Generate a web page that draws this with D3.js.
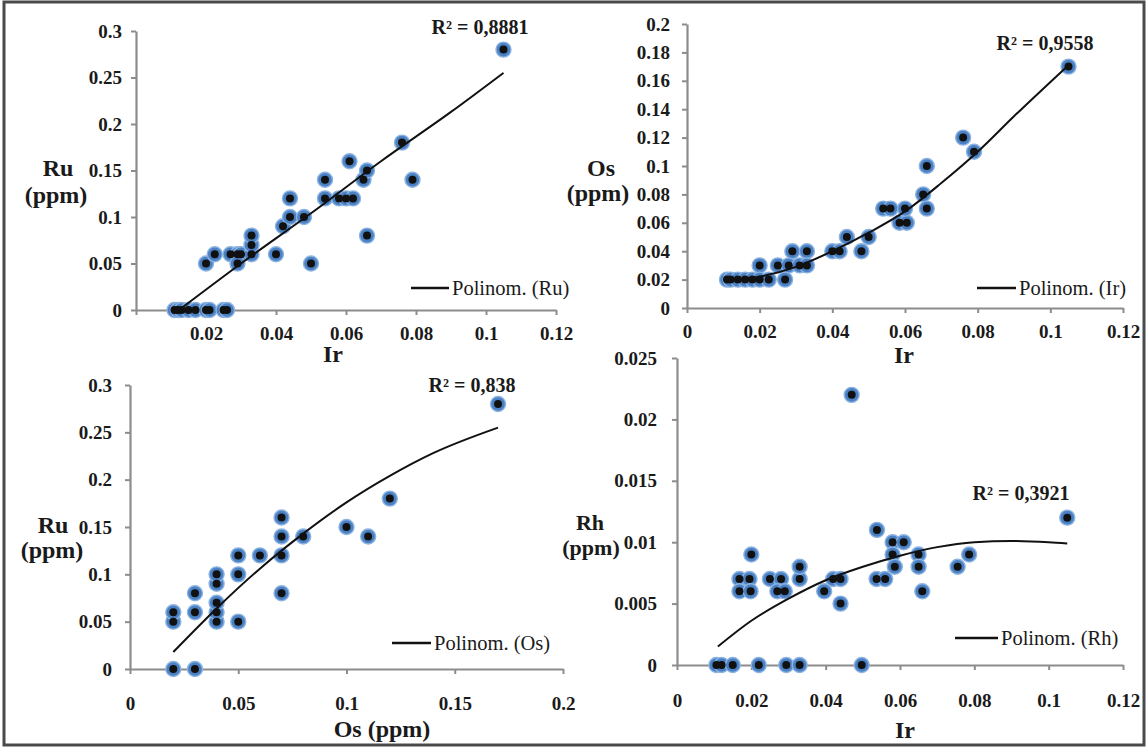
<!DOCTYPE html>
<html>
<head>
<meta charset="utf-8">
<script src="https://cdn.jsdelivr.net/npm/d3@7"></script>
<style>
  html, body { margin: 0; padding: 0; background: #fff; }
  svg { display: block; }
  text { font-family: "Liberation Serif", "Times New Roman", serif; fill: #1a1a1a; }
</style>
</head>
<body>
<svg id="chart" width="1148" height="748"></svg>
<script>
// ---------- DATA ----------
// Panel A: Ru vs Ir
const irA = [0.011,0.012,0.013,0.015,0.017,0.020,0.021,0.025,0.026,0.020,0.0225,0.027,0.029,0.030,0.029,0.033,0.033,0.033,0.040,0.042,0.044,0.044,0.048,0.050,0.054,0.054,0.058,0.060,0.062,0.061,0.065,0.066,0.066,0.076,0.079,0.105];
const ruA = [0,0,0,0,0,0,0,0,0,0.05,0.06,0.06,0.06,0.06,0.05,0.06,0.07,0.08,0.06,0.09,0.12,0.10,0.10,0.05,0.14,0.12,0.12,0.12,0.12,0.16,0.14,0.15,0.08,0.18,0.14,0.28];
const trendAx = [0.013,0.03,0.05,0.07,0.09,0.105];
const trendAy = [0.002,0.05,0.104,0.16,0.213,0.255];

// Panel B: Os vs Ir
const irB = [0.011,0.012,0.014,0.016,0.018,0.020,0.020,0.0225,0.025,0.027,0.028,0.029,0.031,0.033,0.033,0.040,0.042,0.044,0.048,0.050,0.054,0.056,0.0585,0.0605,0.060,0.065,0.066,0.066,0.076,0.079,0.105];
const osB = [0.02,0.02,0.02,0.02,0.02,0.03,0.02,0.02,0.03,0.02,0.03,0.04,0.03,0.04,0.03,0.04,0.04,0.05,0.04,0.05,0.07,0.07,0.06,0.06,0.07,0.08,0.07,0.10,0.12,0.11,0.17];
const trendBx = [0.012,0.02,0.03,0.04,0.05,0.06,0.07,0.08,0.09,0.105];
const trendBy = [0.019,0.022,0.029,0.040,0.053,0.068,0.088,0.110,0.135,0.171];

// Panel C: Ru vs Os
const osC = [0.02,0.03,0.02,0.02,0.03,0.03,0.04,0.04,0.04,0.04,0.04,0.05,0.05,0.05,0.06,0.07,0.07,0.07,0.07,0.08,0.10,0.11,0.12,0.17];
const ruC = [0,0,0.05,0.06,0.06,0.08,0.05,0.06,0.07,0.09,0.10,0.05,0.10,0.12,0.12,0.12,0.08,0.14,0.16,0.14,0.15,0.14,0.18,0.28];
const trendCx = [0.02,0.04,0.06,0.08,0.10,0.12,0.14,0.17];
const trendCy = [0.018,0.064,0.106,0.143,0.176,0.204,0.228,0.255];

// Panel D: Rh vs Ir
const irD = [0.0106,0.012,0.015,0.022,0.0294,0.033,0.0497,0.0168,0.0195,0.0168,0.0198,0.020,0.025,0.028,0.027,0.029,0.033,0.033,0.0396,0.042,0.044,0.044,0.047,0.0537,0.056,0.0538,0.058,0.061,0.058,0.0586,0.065,0.065,0.066,0.0755,0.0786,0.105];
const rhD = [0,0,0,0,0,0,0,0.007,0.007,0.006,0.006,0.009,0.007,0.007,0.006,0.006,0.007,0.008,0.006,0.007,0.007,0.005,0.022,0.007,0.007,0.011,0.010,0.010,0.009,0.008,0.009,0.008,0.006,0.008,0.009,0.012];
const trendDx = [0.011,0.02,0.03,0.04,0.05,0.06,0.07,0.08,0.09,0.1,0.105];
const trendDy = [0.0015,0.0036,0.0054,0.0069,0.0080,0.0089,0.0096,0.0100,0.0101,0.0100,0.0099];

// Tick values
const ticksIr = [0,0.02,0.04,0.06,0.08,0.1,0.12];
const ticksRu = [0,0.05,0.1,0.15,0.2,0.25,0.3];
const ticksOs = [0,0.02,0.04,0.06,0.08,0.1,0.12,0.14,0.16,0.18,0.2];
const ticksOsX = [0,0.05,0.1,0.15,0.2];
const ticksRh = [0,0.005,0.01,0.015,0.02,0.025];

// Texts
const r2Labels = ["R² = 0,8881","R² = 0,9558","R² = 0,838","R² = 0,3921"];
const legendLabels = ["Polinom. (Ru)","Polinom. (Ir)","Polinom. (Os)","Polinom. (Rh)"];

// ---------- LAYOUT ----------
const panels = [
  { xs: irA, ys: ruA, tx: trendAx, ty: trendAy, xDom:[0,0.12], yDom:[0,0.3], xTicks: ticksIr, yTicks: ticksRu,
    x0:136, x1:556, yB:310, yT:31, xPad:12, yPad:9, hideX0:true,
    r2: r2Labels[0], r2x:480, r2y:34, leg: legendLabels[0], lx0:411, lx1:449, ly:288,
    yl1:"Ru", yl2:"(ppm)", yl1x:58, yl1y:176, yl2x:56, yl2y:203, ylSize:24, xl:"Ir", xlx:333, xly:362 },
  { xs: irB, ys: osB, tx: trendBx, ty: trendBy, xDom:[0,0.12], yDom:[0,0.2], xTicks: ticksIr, yTicks: ticksOs,
    x0:687, x1:1123, yB:308, yT:24, xPad:12, yPad:12, hideX0:false,
    r2: r2Labels[1], r2x:1045, r2y:50, leg: legendLabels[1], lx0:977, lx1:1016, ly:288,
    yl1:"Os", yl2:"(ppm)", yl1x:601, yl1y:176, yl2x:598, yl2y:201, ylSize:24, xl:"Ir", xlx:904, xly:363 },
  { xs: osC, ys: ruC, tx: trendCx, ty: trendCy, xDom:[0,0.2], yDom:[0,0.3], xTicks: ticksOsX, yTicks: ticksRu,
    x0:130, x1:563, yB:669, yT:385, xPad:23, yPad:13, hideX0:false,
    r2: r2Labels[2], r2x:472, r2y:392, leg: legendLabels[2], lx0:392, lx1:431, ly:643,
    yl1:"Ru", yl2:"(ppm)", yl1x:53, yl1y:533, yl2x:52, yl2y:558, ylSize:24, xl:"Os (ppm)", xlx:382, xly:737 },
  { xs: irD, ys: rhD, tx: trendDx, ty: trendDy, xDom:[0,0.12], yDom:[0,0.025], xTicks: ticksIr, yTicks: ticksRh,
    x0:677, x1:1123, yB:665, yT:358, xPad:24, yPad:15, hideX0:false,
    r2: r2Labels[3], r2x:1021, r2y:500, leg: legendLabels[3], lx0:955, lx1:998, ly:638,
    yl1:"Rh", yl2:"(ppm)", yl1x:590, yl1y:530, yl2x:591, yl2y:555, ylSize:22, xl:"Ir", xlx:905, xly:738 }
];

const svg = d3.select("#chart");
svg.append("rect").attr("x",0).attr("y",0).attr("width",1148).attr("height",748).attr("fill","#fff");

const fmt = v => v === 0 ? "0" : String(+v.toFixed(4));

panels.forEach(p => {
  const x = d3.scaleLinear().domain(p.xDom).range([p.x0, p.x1]);
  const y = d3.scaleLinear().domain(p.yDom).range([p.yB, p.yT]);
  const g = svg.append("g");

  // axes
  const ax = g.append("g").attr("transform", `translate(0,${p.yB})`)
    .call(d3.axisBottom(x).tickValues(p.xTicks).tickSize(5).tickSizeOuter(0).tickPadding(p.xPad)
      .tickFormat(v => (p.hideX0 && v === 0) ? "" : fmt(v)));
  const ay = g.append("g").attr("transform", `translate(${p.x0},0)`)
    .call(d3.axisLeft(y).tickValues(p.yTicks).tickSize(5).tickSizeOuter(0).tickPadding(p.yPad).tickFormat(fmt));
  [ax, ay].forEach(a => {
    a.select(".domain").attr("stroke", "#8c8c8c").attr("stroke-width", 2.2);
    a.selectAll(".tick line").attr("stroke", "#8c8c8c").attr("stroke-width", 2);
    a.selectAll(".tick text").attr("font-family", "Liberation Serif, serif")
      .attr("font-size", 19).attr("font-weight", "bold").attr("fill", "#1a1a1a");
  });

  // points
  const pts = p.xs.map((v, i) => [v, p.ys[i]]);
  g.append("g").selectAll("circle.halo").data(pts).join("circle")
    .attr("class", "halo").attr("cx", d => x(d[0])).attr("cy", d => y(d[1]))
    .attr("r", 7.5).attr("fill", "#4a80c4").attr("stroke", "#8db3e0").attr("stroke-width", 1.4);
  g.append("g").selectAll("circle.core").data(pts).join("circle")
    .attr("class", "core").attr("cx", d => x(d[0])).attr("cy", d => y(d[1]))
    .attr("r", 4).attr("fill", "#111");

  // trend line
  const tr = p.tx.map((v, i) => [v, p.ty[i]]);
  g.append("path").datum(tr)
    .attr("d", d3.line().x(d => x(d[0])).y(d => y(d[1])).curve(d3.curveMonotoneX))
    .attr("fill", "none").attr("stroke", "#111").attr("stroke-width", 2);

  // R² label
  g.append("text").attr("x", p.r2x).attr("y", p.r2y).attr("text-anchor", "middle")
    .attr("font-size", 20).attr("font-weight", "bold").text(p.r2);

  // legend
  g.append("line").attr("x1", p.lx0).attr("x2", p.lx1).attr("y1", p.ly).attr("y2", p.ly)
    .attr("stroke", "#111").attr("stroke-width", 2.5);
  g.append("text").attr("x", p.lx1 + 3).attr("y", p.ly + 7)
    .attr("font-size", 20.5).text(p.leg);

  // axis titles
  g.append("text").attr("x", p.yl1x).attr("y", p.yl1y).attr("text-anchor", "middle")
    .attr("font-size", p.ylSize).attr("font-weight", "bold").text(p.yl1);
  g.append("text").attr("x", p.yl2x).attr("y", p.yl2y).attr("text-anchor", "middle")
    .attr("font-size", p.ylSize).attr("font-weight", "bold").text(p.yl2);
  g.append("text").attr("x", p.xlx).attr("y", p.xly).attr("text-anchor", "middle")
    .attr("font-size", 24).attr("font-weight", "bold").text(p.xl);
});

// outer frame
svg.append("rect").attr("x", 4).attr("y", 2).attr("width", 1140).attr("height", 743)
  .attr("fill", "none").attr("stroke", "#4a4a4a").attr("stroke-width", 3);
</script>
</body>
</html>
